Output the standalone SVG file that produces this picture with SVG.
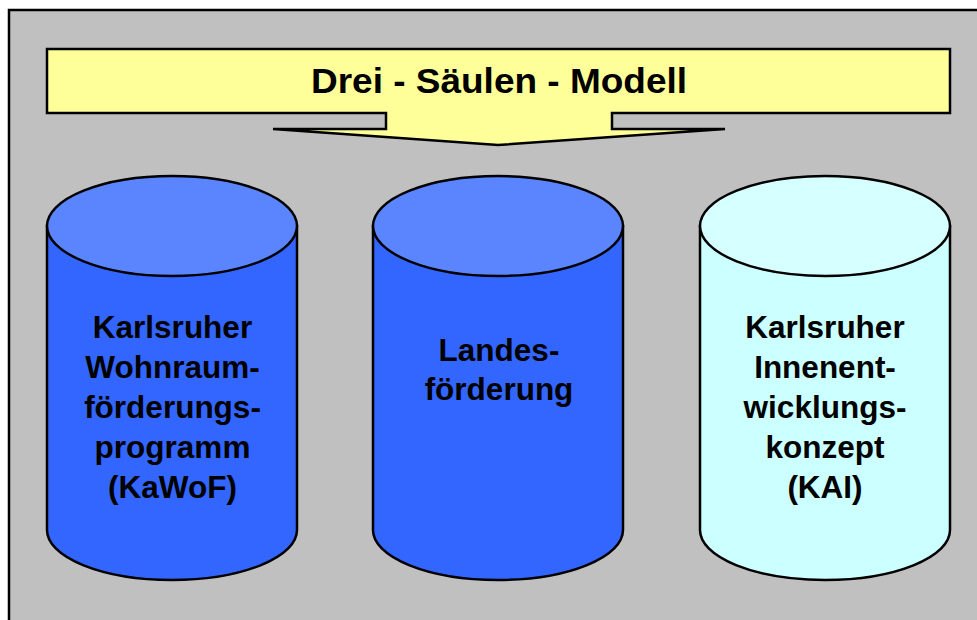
<svg xmlns="http://www.w3.org/2000/svg" width="977" height="620" viewBox="0 0 977 620">
  <style>
    .frame { fill: #C0C0C0; stroke: #000; stroke-width: 2.5; }
    .banner { fill: #FFFF99; stroke: #000; stroke-width: 2.5; stroke-linejoin: miter; }
    .edge { stroke: #000; stroke-width: 2.5; }
    .blue .side { fill: #3366FF; }
    .blue .top { fill: #5B85FF; }
    .cyan .side { fill: #CCFFFF; }
    .cyan .top { fill: #D6FFFF; }
    text { font-family: "Liberation Sans", Arial, sans-serif; font-weight: bold; fill: #000; text-anchor: middle; }
    .title { font-size: 35px; }
    .label { font-size: 31.5px; }
  </style>
  <defs>
    <!-- column body: sides plus bottom arc, centred at x=0, top ellipse centre y=0 -->
    <path id="body" d="M -125 0 L -125 304 A 125 50 0 0 0 125 304 L 125 0 Z"/>
    <ellipse id="lid" cx="0" cy="0" rx="125" ry="50"/>
  </defs>

  <!-- background panel -->
  <rect class="frame" x="9" y="10" width="980" height="620"/>

  <!-- title callout with downward pointer -->
  <g id="title">
    <path class="banner" d="M 47 49 L 950 49 L 950 113 L 612 113 L 612 129 L 725 129 L 498 145 L 273 129 L 386 129 L 386 113 L 47 113 Z"/>
    <text class="title" x="499" y="92.5" textLength="376" lengthAdjust="spacingAndGlyphs">Drei - Säulen - Modell</text>
  </g>

  <g id="connectors"/>

  <!-- column 1 -->
  <g id="kawof" class="blue" transform="translate(172,226)">
    <use href="#body" class="side edge"/>
    <use href="#lid" class="top edge"/>
  </g>
  <g class="label">
    <text class="label" x="172.5" y="337.5">Karlsruher</text>
    <text class="label" x="172.5" y="377.5">Wohnraum-</text>
    <text class="label" x="172.5" y="417.5">förderungs-</text>
    <text class="label" x="172.5" y="457.5">programm</text>
    <text class="label" x="172.5" y="497.5">(KaWoF)</text>
  </g>

  <!-- column 2 -->
  <g id="landesfoerderung" class="blue" transform="translate(498,226)">
    <use href="#body" class="side edge"/>
    <use href="#lid" class="top edge"/>
  </g>
  <g>
    <text class="label" x="499" y="360.5">Landes-</text>
    <text class="label" x="499" y="400">förderung</text>
  </g>

  <!-- column 3 -->
  <g id="kai" class="cyan" transform="translate(825,226)">
    <use href="#body" class="side edge"/>
    <use href="#lid" class="top edge"/>
  </g>
  <g>
    <text class="label" x="825" y="337.5">Karlsruher</text>
    <text class="label" x="825" y="377.5">Innenent-</text>
    <text class="label" x="825" y="417.5">wicklungs-</text>
    <text class="label" x="825" y="457.5">konzept</text>
    <text class="label" x="825" y="497.5">(KAI)</text>
  </g>
</svg>
